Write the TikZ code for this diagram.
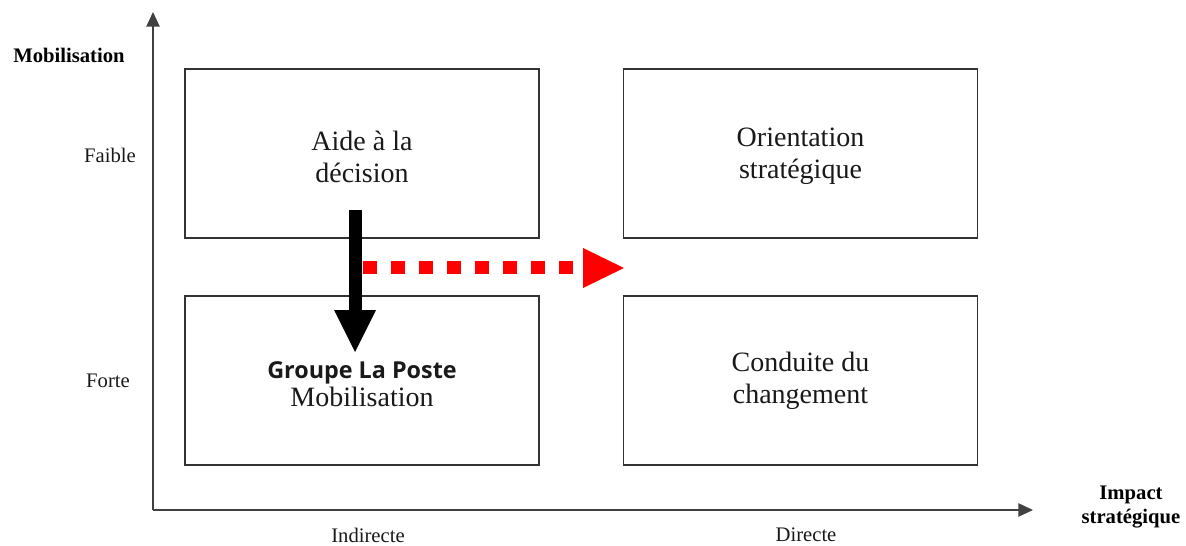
\documentclass[tikz,border=0pt]{standalone}
\usepackage{fontspec}
\setmainfont{Liberation Serif}
\newfontfamily\grpfont{Open Sans}
\usetikzlibrary{arrows.meta}
\tikzset{
  quad/.style={draw=black!80, line width=1.1pt, minimum width=265.5pt, minimum height=126.75pt, inner sep=0pt, align=center, font=\fontsize{21}{24}\selectfont, text=black!90},
  axis/.style={draw=black!75, line width=1.1pt, -{Triangle[length=11pt,width=10pt]}},
  lab/.style={font=\fontsize{15.5}{18}\selectfont, text=black!90},
  blab/.style={font=\bfseries\fontsize{15.5}{18.5}\selectfont, text=black, align=center},
}
\begin{document}
\begin{tikzpicture}[x=0.75pt,y=-0.75pt]
\useasboundingbox (0,0) rectangle (1186,546);
% axes
\coordinate (O) at (153,510);
\coordinate (Ytop) at (153,12);
\coordinate (Xend) at (1033,510);
\draw[axis] (O) -- (Ytop);
\draw[axis] (O) -- (Xend);
% boxes
\node[quad] (b1) at (362,153.5) {};
\node[quad] (b2) at (800.5,153.5) {};
\node[quad] (b3) at (362,380.5) {};
\node[quad] (b4) at (800.5,380.5) {};
\node[align=center, font=\fontsize{21}{24}\selectfont, text=black!90] (t1) at ([yshift=-2.2pt]b1.center) {Aide à la\\décision};
\node[align=center, font=\fontsize{21}{24}\selectfont, text=black!90] (t2) at ([yshift=-2.2pt]b2.center) {Orientation\\stratégique};
\node[align=center, font=\fontsize{21}{24}\selectfont, text=black!90] (t3) at ([yshift=-2.4pt]b3.center) {{\grpfont\bfseries\fontsize{17.5}{18}\selectfont Groupe La Poste}\\[-3pt]Mobilisation};
\node[align=center, font=\fontsize{21}{24}\selectfont, text=black!90] (t4) at ([yshift=-0.5pt]b4.center) {Conduite du\\changement};
% labels
\node[blab] (ylab) at (69,55) {Mobilisation};
\node[lab] (faible) at (110,155) {Faible};
\node[lab] (forte) at (108,381) {Forte};
\node[lab] (ind) at (368,535) {Indirecte};
\node[lab] (dir) at (806,535) {Directe};
\node[blab] (xlab) at (1131,507) {Impact\\stratégique};
% black arrow
\fill[black] (349,210) rectangle (362,311);
\fill[black] (334,310) -- (376,310) -- (355,352) -- cycle;
% red dotted arrow
\draw[red, line width=9.75pt, dash pattern=on 10.5pt off 10.5pt] (363,267.5) -- (580,267.5);
\fill[red] (583,248) -- (624,268) -- (583,288) -- cycle;
\end{tikzpicture}
\end{document}
